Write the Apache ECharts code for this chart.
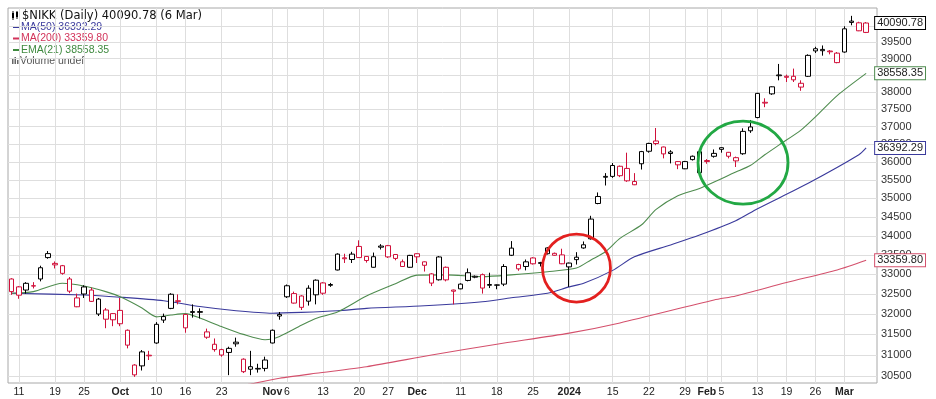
<!DOCTYPE html>
<html>
<head>
<meta charset="utf-8">
<title>$NIKK Daily</title>
<script src="https://cdn.jsdelivr.net/npm/echarts@6/dist/echarts.min.js"></script>
<style>
  html, body { margin: 0; padding: 0; background: #fff; }
  #chart { width: 936px; height: 399px; }
</style>
</head>
<body>
<div id="chart"></div>
<script>
// trading days, the last slot stays empty like on the original chart
const dates = [
  '2023-09-08', '2023-09-11', '2023-09-12', '2023-09-13', '2023-09-14', '2023-09-15',
  '2023-09-19', '2023-09-20', '2023-09-21', '2023-09-22', '2023-09-25', '2023-09-26',
  '2023-09-27', '2023-09-28', '2023-09-29', '2023-10-02', '2023-10-03', '2023-10-04',
  '2023-10-05', '2023-10-06', '2023-10-10', '2023-10-11', '2023-10-12', '2023-10-13',
  '2023-10-16', '2023-10-17', '2023-10-18', '2023-10-19', '2023-10-20', '2023-10-23',
  '2023-10-24', '2023-10-25', '2023-10-26', '2023-10-27', '2023-10-30', '2023-10-31',
  '2023-11-01', '2023-11-02', '2023-11-06', '2023-11-07', '2023-11-08', '2023-11-09',
  '2023-11-10', '2023-11-13', '2023-11-14', '2023-11-15', '2023-11-16', '2023-11-17',
  '2023-11-20', '2023-11-21', '2023-11-22', '2023-11-24', '2023-11-27', '2023-11-28',
  '2023-11-29', '2023-11-30', '2023-12-01', '2023-12-04', '2023-12-05', '2023-12-06',
  '2023-12-07', '2023-12-08', '2023-12-11', '2023-12-12', '2023-12-13', '2023-12-14',
  '2023-12-15', '2023-12-18', '2023-12-19', '2023-12-20', '2023-12-21', '2023-12-22',
  '2023-12-25', '2023-12-26', '2023-12-27', '2023-12-28', '2023-12-29', '2024-01-04',
  '2024-01-05', '2024-01-09', '2024-01-10', '2024-01-11', '2024-01-12', '2024-01-15',
  '2024-01-16', '2024-01-17', '2024-01-18', '2024-01-19', '2024-01-22', '2024-01-23',
  '2024-01-24', '2024-01-25', '2024-01-26', '2024-01-29', '2024-01-30', '2024-01-31',
  '2024-02-01', '2024-02-02', '2024-02-05', '2024-02-06', '2024-02-07', '2024-02-08',
  '2024-02-09', '2024-02-13', '2024-02-14', '2024-02-15', '2024-02-16', '2024-02-19',
  '2024-02-20', '2024-02-21', '2024-02-22', '2024-02-26', '2024-02-27', '2024-02-28',
  '2024-02-29', '2024-03-01', '2024-03-04', '2024-03-05', '2024-03-06', ''
];

const opens = [
  32880, 32680, 32600, 32700, 32880, 33430, 33280, 33220, 32880, 32180, 32500, 32600,
  32000, 32100, 32010, 32090, 31600, 30760, 30740, 30980, 31290, 31850, 32140, 32330,
  31990, 32060, 32060, 31560, 31130, 31130, 31160, 31310, 30900, 30720, 30680, 30680,
  31290, 31990, 32430, 32510, 32450, 32320, 32480, 32780, 32740, 33110, 33400, 33380,
  33720, 33460, 33180, 33730, 33740, 33510, 33200, 33180, 33530, 33320, 33010, 32860,
  33180, 32600, 32630, 33040, 32950, 32990, 32740, 32730, 32750, 33490, 33250, 33200,
  33420, 33300, 33530, 33490, 33500, 33190, 33440, 33680, 33920, 34860, 35600, 35600,
  35880, 35820, 35370, 35950, 36300, 36590, 36420, 36280, 36010, 35810, 36160, 35700,
  36040, 36240, 36400, 36270, 36030, 36230, 36880, 37260, 37680, 37950, 38510, 38440,
  38470, 38150, 38470, 39300, 39280, 39230, 38880, 39200, 40150, 39850, 39800
];
const highs = [
  32900, 32700, 32800, 32800, 33220, 33600, 33330, 33240, 32930, 32510, 32720, 32660,
  32400, 32150, 32020, 32400, 31620, 30780, 31120, 31100, 31800, 32010, 32520, 32490,
  32000, 32240, 32140, 31640, 31400, 31150, 31200, 31420, 30920, 31100, 30790, 30960,
  31620, 32050, 32740, 32560, 32470, 32720, 32870, 32800, 32780, 33540, 33530, 33580,
  33880, 33470, 33560, 33780, 33760, 33520, 33380, 33500, 33540, 33330, 33030, 33470,
  33200, 32610, 32770, 33150, 32970, 33020, 33040, 32740, 33260, 33860, 33270, 33380,
  33440, 33320, 33700, 33560, 33660, 33300, 33570, 33850, 34530, 35160, 35690, 35970,
  35900, 36260, 35690, 36310, 36540, 36960, 36430, 36330, 36020, 36030, 36180, 36310,
  36080, 36350, 36410, 36280, 36150, 36950, 37190, 37980, 37820, 38170, 38840, 38520,
  38700, 38350, 39130, 39360, 39400, 39260, 39200, 39990, 40314, 40130, 40120
];
const lows = [
  32480, 32380, 32510, 32640, 32820, 33400, 33150, 32990, 32520, 32170, 32400, 32300,
  31950, 31650, 31700, 31700, 31160, 30480, 30630, 30880, 31270, 31780, 32120, 32240,
  31540, 31910, 31890, 31390, 31080, 30960, 30520, 31200, 30570, 30520, 30580, 30610,
  31280, 31860, 32400, 32260, 32100, 32210, 32240, 32480, 32680, 33100, 33290, 33290,
  33420, 33300, 33170, 33640, 33420, 33360, 33190, 33170, 33290, 33070, 32700, 32840,
  32820, 32240, 32620, 32820, 32900, 32510, 32650, 32620, 32700, 33470, 33090, 33100,
  33250, 33200, 33510, 33480, 33260, 32680, 33250, 33660, 33900, 34840, 35350, 35560,
  35580, 35450, 35360, 35790, 36260, 36470, 36100, 35960, 35800, 35800, 36040, 35690,
  35950, 36120, 36260, 36100, 35860, 36200, 36820, 37240, 37560, 37920, 38350, 38300,
  38300, 38040, 38450, 39170, 39090, 39130, 38860, 39180, 40020, 39840, 39780
];
const closes = [
  32560, 32470, 32770, 32710, 33168, 33533, 33242, 33024, 32571, 32402, 32678, 32315,
  32372, 31872, 31857, 31760, 31238, 30527, 31075, 30995, 31746, 31937, 32494, 32316,
  31659, 32040, 32042, 31430, 31259, 30999, 31062, 31270, 30602, 30660, 30665, 30880,
  31600, 31950, 32708, 32272, 32166, 32646, 32850, 32520, 32720, 33520, 33424, 33520,
  33430, 33354, 33452, 33700, 33448, 33408, 33321, 33487, 33450, 33231, 32776, 33446,
  32858, 32570, 32750, 32843, 32926, 32650, 32720, 32722, 33200, 33676, 33140, 33320,
  33270, 33280, 33681, 33540, 33270, 33288, 33377, 33763, 34442, 35050, 35577, 35902,
  35619, 35478, 35460, 36290, 36520, 36518, 36226, 36236, 35920, 36010, 36066, 36287,
  36011, 36158, 36354, 36160, 36120, 36863, 36990, 37964, 37703, 38158, 38487, 38470,
  38364, 38262, 39099, 39234, 39240, 39208, 39166, 39911, 40109, 40097, 40090.78
];
// close of the day before the first candle (sets its colour)
const prevClose = 32991;

// overlays: [day index, value]
const ma50 = [
  [0, 32520], [10, 32475], [15, 32420], [21, 32330], [26, 32185], [31, 32080],
  [36, 32020], [40, 32040], [45, 32080], [49, 32140], [57, 32205], [65, 32305],
  [69, 32405], [74, 32520], [77, 32680], [79, 32770], [83, 33100], [86, 33450],
  [91, 33760], [95, 34020], [100, 34400], [103, 34720], [110, 35410], [117, 36200],
  [118, 36392.29]
];
const ma200 = [
  [28, 30160], [33, 30312], [37, 30446], [42, 30564], [49, 30720], [58, 31000],
  [67, 31260], [77, 31530], [84, 31780], [97, 32350], [100, 32450], [107, 32790],
  [114, 33110], [118, 33359.80]
];
const ema21 = [
  [0, 32520], [3, 32560], [7, 32770], [10, 32700], [13, 32560], [15, 32430],
  [18, 32150], [20, 31930], [22, 31975], [24, 32010], [26, 31900], [29, 31690],
  [32, 31500], [35, 31370], [37, 31450], [40, 31720], [42, 31890], [45, 32050],
  [49, 32450], [53, 32760], [56, 32980], [60, 32985], [65, 32940], [69, 32985],
  [74, 33065], [78, 33160], [80, 33370], [82, 33580], [84, 33930], [87, 34290],
  [89, 34700], [92, 35070], [95, 35270], [100, 35720], [102, 35900], [104, 36200],
  [106, 36480], [109, 36900], [111, 37280], [114, 37900], [118, 38558.35]
];

// price axis ticks
const yTicks = [
  30500, 31000, 31500, 32000, 32500, 33000, 33500, 34000, 34500, 35000,
  35500, 36000, 36500, 37000, 37500, 38000, 38500, 39000, 39500, 40000
];
// date axis labels
const tickDates = [
  '2023-09-11', '2023-09-19', '2023-09-25', '2023-10-02', '2023-10-10', '2023-10-16',
  '2023-10-23', '2023-11-01', '2023-11-06', '2023-11-13', '2023-11-20', '2023-11-27',
  '2023-12-01', '2023-12-11', '2023-12-18', '2023-12-25', '2024-01-04', '2024-01-15',
  '2024-01-22', '2024-01-29', '2024-02-01', '2024-02-05', '2024-02-13', '2024-02-19',
  '2024-02-26', '2024-03-01'
];
const tickText = [
  '11', '19', '25', 'Oct', '10', '16', '23', 'Nov', '6', '13', '20', '27',
  'Dec', '11', '18', '25', '2024', '15', '22', '29', 'Feb', '5', '13', '19',
  '26', 'Mar'
];

const RED = '#d0103a';
const C_MA50 = '#3a3a9c';
const C_MA200 = '#d4506c';
const C_EMA = '#4f8c4f';
const GRID = '#dedede';
const FONT = 'Liberation Sans';

const last = closes.length - 1;
const lastOf = arr => arr[arr.length - 1];

// black = up on the day, red = down on the day; hollow = close above open
const candles = closes.map((c, i) => {
  const prev = i ? closes[i - 1] : prevClose;
  const col = c >= prev ? '#000' : RED;
  return {
    value: [opens[i], c, lows[i], highs[i]],
    itemStyle: { color: '#fff', color0: col, borderColor: col, borderColor0: col }
  };
});

const isTick = (i, v) => tickDates.indexOf(v) >= 0;

// price tag on the right side
function tag(border) {
  return {
    show: true,
    position: 'right',
    distance: 9,
    formatter: p => Number(p.value).toFixed(2),
    color: '#222',
    fontFamily: FONT,
    fontSize: 11,
    backgroundColor: '#fff',
    borderColor: border,
    borderWidth: 1,
    padding: [1, 2, 0, 2]
  };
}
function endMark(x, y, border) {
  return {
    symbol: 'rect',
    symbolSize: 0,
    silent: true,
    animation: false,
    label: tag(border),
    data: [{ coord: [x, y], value: y }]
  };
}

function line(name, data, color) {
  return {
    name: name,
    type: 'line',
    data: data,
    showSymbol: false,
    smooth: 0.25,
    silent: true,
    z: 3,
    lineStyle: { color: color, width: 1.1 },
    markPoint: endMark(lastOf(data)[0], lastOf(data)[1], color)
  };
}

function legendRow(id, y, color, text) {
  return [
    { id: id + '-dash', type: 'line', shape: { x1: 13, y1: y, x2: 20, y2: y }, style: { stroke: color, lineWidth: 2 } },
    { id: id + '-text', type: 'text', style: { x: 21, y: y, text: text, fill: color, font: '10.5px "Liberation Sans"', verticalAlign: 'middle' } }
  ];
}

const chart = echarts.init(document.getElementById('chart'));

const option = {
  animation: false,
  backgroundColor: '#fff',
  grid: {
    left: 8, right: 59, top: 8, bottom: 16,
    show: true, borderColor: '#a8a8a8', borderWidth: 1,
    outerBoundsMode: 'none'
  },
  xAxis: {
    type: 'category',
    data: dates,
    boundaryGap: true,
    axisLine: { show: false },
    axisTick: { show: false },
    axisLabel: {
      interval: isTick,
      margin: 4,
      color: '#222',
      fontFamily: FONT,
      fontSize: 10.5,
      formatter: v => {
        const t = tickText[tickDates.indexOf(v)] || '';
        return /^\d{1,2}$/.test(t) ? t : '{b|' + t + '}';
      },
      rich: {
        b: { fontFamily: FONT, fontSize: 10.5, fontWeight: 'bold', color: '#222' }
      }
    },
    splitLine: { show: true, interval: isTick, alignWithLabel: true, lineStyle: { color: GRID, width: 1 } }
  },
  yAxis: {
    type: 'log',
    logBase: 10,
    min: 30335,
    max: 40560,
    position: 'right',
    axisLine: { show: false },
    axisTick: { show: false, customValues: yTicks },
    axisLabel: {
      customValues: yTicks,
      margin: 4,
      color: '#333',
      fontFamily: FONT,
      fontSize: 11,
      formatter: v => String(Math.round(v))
    },
    splitLine: { show: true, customValues: yTicks, lineStyle: { color: GRID, width: 1 } }
  },
  series: [
    {
      name: '$NIKK',
      type: 'candlestick',
      data: candles,
      barWidth: 5,
      silent: true,
      z: 4,
      itemStyle: { borderWidth: 1 },
      markPoint: endMark(last, closes[last], '#000')
    },
    line('MA(50)', ma50, C_MA50),
    line('MA(200)', ma200, C_MA200),
    line('EMA(21)', ema21, C_EMA)
  ],
  graphic: [
    // small price-bars icon
    { id: 'ico1', type: 'rect', shape: { x: 12, y: 13, width: 2, height: 5 }, style: { fill: '#000' } },
    { id: 'ico2', type: 'line', shape: { x1: 13, y1: 11, x2: 13, y2: 20 }, style: { stroke: '#000', lineWidth: 1 } },
    { id: 'ico3', type: 'rect', shape: { x: 16, y: 12, width: 2, height: 5 }, style: { fill: '#000' } },
    { id: 'ico4', type: 'line', shape: { x1: 17, y1: 11, x2: 17, y2: 19 }, style: { stroke: '#000', lineWidth: 1 } },
    {
      id: 'title', type: 'text',
      style: {
        x: 22, y: 16,
        text: '$NIKK (Daily) ' + closes[last].toFixed(2) + ' (6 Mar)',
        fill: '#111', font: '11.5px "DejaVu Sans"', verticalAlign: 'middle'
      }
    },
    ...legendRow('ma50', 27, C_MA50, 'MA(50) ' + lastOf(ma50)[1].toFixed(2)),
    ...legendRow('ma200', 38.5, '#d2335a', 'MA(200) ' + lastOf(ma200)[1].toFixed(2)),
    ...legendRow('ema', 50, '#3f8a3f', 'EMA(21) ' + lastOf(ema21)[1].toFixed(2)),
    // volume icon
    { id: 'vol1', type: 'rect', shape: { x: 12, y: 59, width: 1.5, height: 5 }, style: { fill: '#666' } },
    { id: 'vol2', type: 'rect', shape: { x: 14.5, y: 57, width: 1.5, height: 7 }, style: { fill: '#666' } },
    { id: 'vol3', type: 'rect', shape: { x: 17, y: 60, width: 1.5, height: 4 }, style: { fill: '#666' } },
    {
      id: 'vol', type: 'text',
      style: { x: 20, y: 61, text: 'Volume undef', fill: '#555', font: '10.5px "Liberation Sans"', verticalAlign: 'middle' }
    }
  ]
};

chart.setOption(option);

// hand-drawn highlight rings, placed by date index and price
const rings = [
  { id: 'ringRed', at: [77.7, 33160], rx: 34, ry: 34, color: '#e3201f' },
  { id: 'ringGreen', at: [100.9, 35980], rx: 45, ry: 41.5, color: '#22a844' }
];
chart.setOption({
  graphic: rings.map(r => {
    const p = chart.convertToPixel({ xAxisIndex: 0, yAxisIndex: 0 }, r.at);
    return {
      id: r.id, type: 'ellipse', z: 100,
      shape: { cx: p[0], cy: p[1], rx: r.rx, ry: r.ry },
      style: { fill: 'none', stroke: r.color, lineWidth: 2.8 }
    };
  })
});
</script>
</body>
</html>
